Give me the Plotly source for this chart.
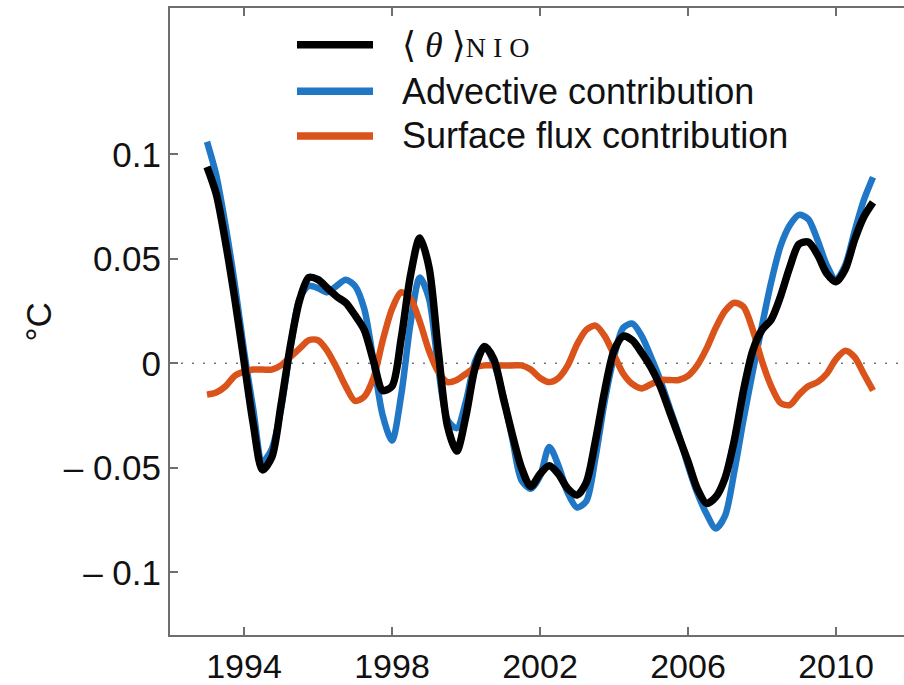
import plotly.graph_objects as go

# Quarterly time axis (decimal years)
years = [1993.0 + 0.25 * i for i in range(73)]

# Northern Indian Ocean mean temperature anomaly <theta>_NIO (degC)
theta_nio = [
    0.094, 0.081, 0.058, 0.031, 0.001, -0.029, -0.051, -0.045,
    -0.020, 0.008, 0.030, 0.041, 0.040, 0.036, 0.032, 0.029,
    0.023, 0.016, 0.001, -0.013, -0.011, 0.012, 0.042, 0.060,
    0.046, 0.006, -0.030, -0.042, -0.025, -0.002, 0.008, 0.002,
    -0.016, -0.034, -0.050, -0.059, -0.053, -0.049, -0.053, -0.060,
    -0.063, -0.057, -0.037, -0.013, 0.006, 0.013, 0.011, 0.005,
    -0.002, -0.011, -0.023, -0.035, -0.047, -0.060, -0.067, -0.064,
    -0.055, -0.037, -0.013, 0.006, 0.016, 0.021, 0.032, 0.046,
    0.057, 0.058, 0.052, 0.043, 0.039, 0.045, 0.059, 0.070,
    0.077,
]

# Advective contribution (degC)
advective = [
    0.106, 0.090, 0.066, 0.038, 0.006, -0.022, -0.047, -0.041,
    -0.022, 0.007, 0.031, 0.037, 0.036, 0.034, 0.037, 0.040,
    0.037, 0.026, 0.001, -0.025, -0.037, -0.015, 0.019, 0.041,
    0.031, -0.002, -0.027, -0.031, -0.018, 0.001, 0.008, 0.000,
    -0.015, -0.036, -0.056, -0.060, -0.054, -0.040, -0.049, -0.062,
    -0.069, -0.066, -0.045, -0.018, 0.003, 0.017, 0.019, 0.013,
    0.003, -0.008, -0.021, -0.034, -0.049, -0.062, -0.072, -0.079,
    -0.073, -0.052, -0.027, -0.004, 0.018, 0.039, 0.056, 0.066,
    0.071, 0.069, 0.059, 0.047, 0.040, 0.047, 0.063, 0.078,
    0.089,
]

# Surface flux contribution (degC)
surface_flux = [
    -0.015, -0.014, -0.011, -0.006, -0.004, -0.003, -0.003, -0.003,
    -0.001, 0.003, 0.007, 0.011, 0.011, 0.006, -0.002, -0.011,
    -0.018, -0.016, -0.007, 0.011, 0.026, 0.034, 0.031, 0.020,
    0.006, -0.004, -0.009, -0.008, -0.005, -0.002, -0.001, -0.001,
    -0.001, -0.001, -0.001, -0.003, -0.007, -0.009, -0.007, -0.001,
    0.009, 0.016, 0.018, 0.013, 0.004, -0.005, -0.010, -0.012,
    -0.010, -0.008, -0.008, -0.008, -0.006, -0.001, 0.007, 0.017,
    0.025, 0.029, 0.027, 0.016, 0.001, -0.011, -0.019, -0.020,
    -0.015, -0.011, -0.009, -0.005, 0.002, 0.006, 0.003, -0.005,
    -0.013,
]

x_tick_vals = [1994, 1998, 2002, 2006, 2010]
y_tick_vals = [0.1, 0.05, 0, -0.05, -0.1]
y_tick_text = ["0.1", "0.05", "0", "\u2013 0.05", "\u2013 0.1"]

BLACK = "#000000"
BLUE = "#1f77c6"
ORANGE = "#d9531a"
AXIS = "#6e6e6e"
FONT = "Liberation Sans, Arial, sans-serif"
SERIF = "Liberation Serif, DejaVu Serif, serif"

series = [
    ("Advective contribution", advective, BLUE, 6.5),
    ("Surface flux contribution", surface_flux, ORANGE, 6.5),
    ("\u27e8\u03b8\u27e9 NIO", theta_nio, BLACK, 7.5),
]

fig = go.Figure()
for name, vals, color, width in series:
    fig.add_trace(go.Scatter(
        x=years, y=vals, mode="lines", name=name,
        line=dict(color=color, width=width, shape="spline", smoothing=0.8),
        showlegend=False,
    ))

# zero reference line
fig.add_shape(type="line", xref="paper", yref="y", x0=0, x1=1, y0=0, y1=0,
              line=dict(color="#777777", width=1.5, dash="2px,9px"), layer="below")

# legend block drawn in paper coordinates
L, R, T, B = 170, 904, 8, 640
def px(xp):
    return (xp - L) / (R - L)
def py(yp):
    return (B - yp) / (B - T)

legend_rows = [
    ("\u27e8 <i>\u03b8</i> \u27e9<span style='font-size:28px'>N I O</span>", BLACK, 45, SERIF),
    ("Advective contribution", BLUE, 92, FONT),
    ("Surface flux contribution", ORANGE, 137, FONT),
]
for text, color, yp, fam in legend_rows:
    fig.add_shape(type="line", xref="paper", yref="paper",
                  x0=px(297), x1=px(373), y0=py(yp), y1=py(yp),
                  line=dict(color=color, width=7.5))
    fig.add_annotation(x=px(400), y=py(yp), xref="paper", yref="paper",
                       text=text, showarrow=False, xanchor="left", yanchor="middle",
                       font=dict(family=fam, size=36, color="#111111"))

# y-axis unit label
fig.add_annotation(x=px(38), y=py(325), xref="paper", yref="paper",
                   text="\u00b0C", showarrow=False, textangle=-90,
                   xanchor="center", yanchor="middle",
                   font=dict(family=FONT, size=35, color="#111111"))

fig.update_layout(
    width=904, height=685,
    margin=dict(l=L, r=904 - R, t=T, b=685 - B),
    paper_bgcolor="white", plot_bgcolor="white",
    font=dict(family=FONT, size=34, color="#111111"),
    xaxis=dict(
        range=[1992.0, 1992.0 + (R - L) / 37.0],
        tickvals=x_tick_vals, ticktext=[str(v) for v in x_tick_vals],
        tickfont=dict(size=34),
        ticks="inside", ticklen=8, tickwidth=2, tickcolor=AXIS,
        showline=True, linecolor=AXIS, linewidth=2, mirror="ticks",
        showgrid=False, zeroline=False,
    ),
    yaxis=dict(
        range=[-0.13, 0.17],
        tickvals=y_tick_vals, ticktext=y_tick_text,
        tickfont=dict(size=35),
        ticks="inside", ticklen=8, tickwidth=2, tickcolor=AXIS,
        showline=True, linecolor=AXIS, linewidth=2, mirror=False,
        showgrid=False, zeroline=False,
    ),
)

fig.write_html("out.html")
